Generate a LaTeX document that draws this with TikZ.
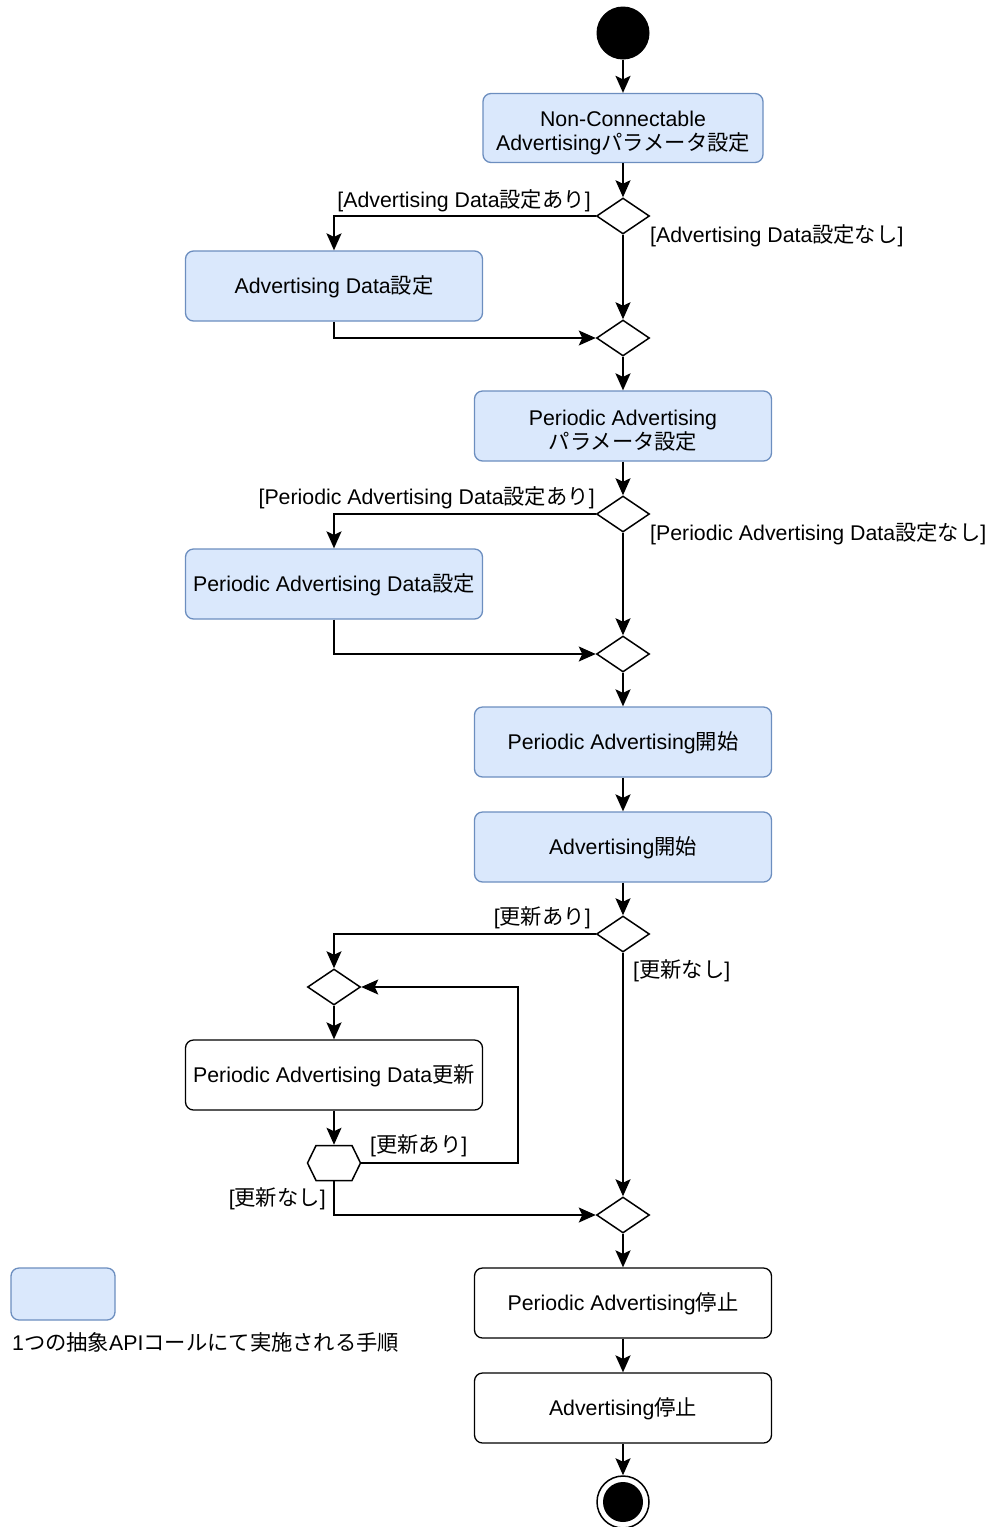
\documentclass[tikz,border=0pt]{standalone}
\usepackage{fontspec}
\setmainfont{Liberation Sans}
\newfontfamily\jpfont{Noto Sans CJK JP}
\newcommand\jp[1]{{\jpfont #1}}
\usetikzlibrary{shapes.geometric,shapes.symbols,arrows.meta}
\definecolor{bluefill}{HTML}{DAE8FC}
\definecolor{blueline}{HTML}{6C8EBF}
\tikzset{
  base/.style={rectangle, rounded corners=8pt, line width=1.3pt, minimum width=297, minimum height=70, align=center, inner sep=0pt, text height=19pt, text depth=4pt, font=\fontsize{21.3}{24}\selectfont},
  act/.style={base, draw=blueline, fill=bluefill},
  wact/.style={base, draw=black, fill=white},
  twoline/.style={text height=, text depth=},
  dec/.style={diamond, draw=black, fill=white, line width=1.5pt, minimum width=53, minimum height=36, inner sep=0pt},
  tipstyle/.tip={Stealth[length=17pt,width=15pt,inset=3.5pt]},
  arr/.style={line width=1.8pt, -tipstyle},
  lbl/.style={inner sep=0pt, text height=19pt, text depth=4pt, font=\fontsize{21.3}{24}\selectfont}
}
\begin{document}
\begin{tikzpicture}[x=1pt,y=-1pt]
\useasboundingbox (0,0) rectangle (986,1527);
\clip (0,0) rectangle (986,1527);
% nodes
\node[circle, fill=black, minimum size=53, inner sep=0pt] (start) at (623,33) {};
\node[act, twoline, minimum width=280, minimum height=69] (b1) at (623,128) {\rule{0pt}{25pt}Non-Connectable\\Advertising\jp{パラメータ設定}};
\node[dec] (d1) at (623,216) {};
\node[act] (b2) at (334,286) {Advertising Data\jp{設定}};
\node[dec] (d2) at (623,338) {};
\node[act, twoline] (b3) at (623,426) {\rule{0pt}{25pt}Periodic Advertising\\\jp{パラメータ設定}};
\node[dec] (d3) at (623,514) {};
\node[act] (b4) at (334,584) {Periodic Advertising Data\jp{設定}};
\node[dec] (d4) at (623,654) {};
\node[act] (b5) at (623,742) {Periodic Advertising\jp{開始}};
\node[act] (b6) at (623,847) {Advertising\jp{開始}};
\node[dec] (d5) at (623,934) {};
\node[dec] (d6) at (334,987) {};
\node[wact] (b7) at (334,1075) {Periodic Advertising Data\jp{更新}};
\node[signal, signal to=east and west, signal pointer angle=128, draw=black, fill=white, line width=1.5pt, minimum width=53, minimum height=35, inner sep=0pt] (hx) at (334,1163) {};
\node[dec] (d7) at (623,1215) {};
\node[wact] (b8) at (623,1303) {Periodic Advertising\jp{停止}};
\node[wact] (b9) at (623,1408) {Advertising\jp{停止}};
\node[circle, draw=black, fill=white, line width=1.5pt, minimum size=52, inner sep=0pt] (end) at (623,1502) {};
\fill[black] (end.center) circle (20);
\coordinate (lp) at (518,1075);
% legend
\node[act, minimum width=104, minimum height=52] (leg) at (63,1294) {};
\node[lbl, anchor=west] (legt) at (12,1343) {1\jp{つの抽象}API\jp{コールにて実施される手順}};
% labels
\node[lbl, anchor=east] (l1) at (591,200) {[Advertising Data\jp{設定あり}]};
\node[lbl, anchor=west] (l2) at (650,235) {[Advertising Data\jp{設定なし}]};
\node[lbl, anchor=east] (l3) at (595,497) {[Periodic Advertising Data\jp{設定あり}]};
\node[lbl, anchor=west] (l4) at (650,533) {[Periodic Advertising Data\jp{設定なし}]};
\node[lbl, anchor=east] (l5) at (591,917) {[\jp{更新あり}]};
\node[lbl, anchor=west] (l6) at (633,970) {[\jp{更新なし}]};
\node[lbl, anchor=west] (l7) at (370,1145) {[\jp{更新あり}]};
\node[lbl, anchor=east] (l8) at (326,1198) {[\jp{更新なし}]};
% connectors
\draw[arr] (start) -- (b1);
\draw[arr] (b1) -- (d1);
\draw[arr] (d1.west) -| (b2.north);
\draw[arr] (d1.south) -- (d2.north);
\draw[arr] (b2.south) |- (d2.west);
\draw[arr] (d2) -- (b3);
\draw[arr] (b3) -- (d3);
\draw[arr] (d3.west) -| (b4.north);
\draw[arr] (d3.south) -- (d4.north);
\draw[arr] (b4.south) |- (d4.west);
\draw[arr] (d4) -- (b5);
\draw[arr] (b5) -- (b6);
\draw[arr] (b6) -- (d5);
\draw[arr] (d5.west) -| (d6.north);
\draw[arr] (d5.south) -- (d7.north);
\draw[arr] (d6) -- (b7);
\draw[arr] (b7) -- (hx);
\draw[arr] (hx.east) -| (lp) |- (d6.east);
\draw[arr] (hx.south) |- (d7.west);
\draw[arr] (d7) -- (b8);
\draw[arr] (b8) -- (b9);
\draw[arr] (b9) -- (end);
\end{tikzpicture}
\end{document}
